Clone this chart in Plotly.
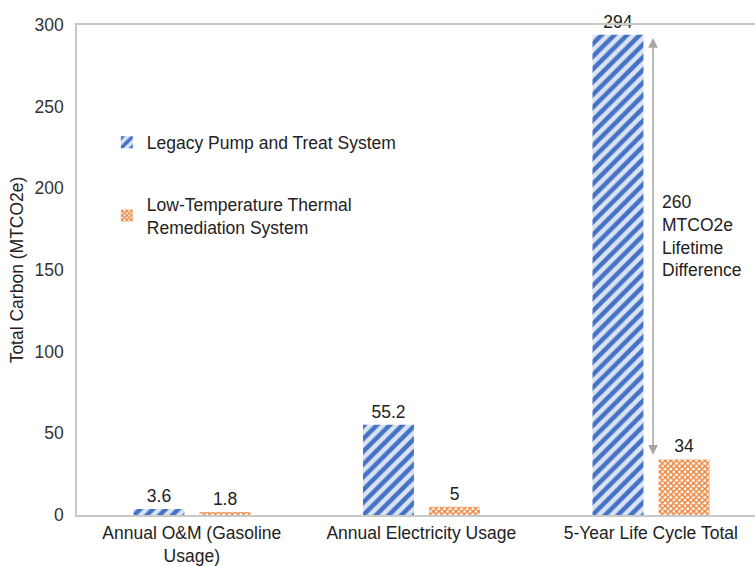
import plotly.graph_objects as go

categories = ["Annual O&M (Gasoline<br>Usage)", "Annual Electricity Usage", "5-Year Life Cycle Total"]
legacy_values = [3.6, 55.2, 294]
thermal_values = [1.8, 5, 34]
legacy_labels = ["3.6", "55.2", "294"]
thermal_labels = ["1.8", "5", "34"]
series_names = ["Legacy Pump and Treat System", "Low-Temperature Thermal<br>Remediation System"]
y_ticks = [0, 50, 100, 150, 200, 250, 300]

font_family = "Liberation Sans, Arial, sans-serif"
FS = 17.5

fig = go.Figure()
fig.add_trace(go.Bar(
    x=categories, y=legacy_values, name=series_names[0],
    text=legacy_labels, textposition="outside", cliponaxis=False,
    textfont=dict(size=FS, color="#222222"),
    width=0.222, offset=-0.254,
    marker=dict(color="#DAE3F3", line=dict(width=0),
                pattern=dict(shape="/", fgcolor="#4472C4", bgcolor="#DAE3F3", size=9,
                             solidity=0.5, fgopacity=1, fillmode="replace")),
    legendgroup="a",
))
fig.add_trace(go.Bar(
    x=categories, y=thermal_values, name=series_names[1],
    text=thermal_labels, textposition="outside", cliponaxis=False,
    textfont=dict(size=FS, color="#222222"),
    width=0.222, offset=0.034,
    marker=dict(color="#ED7D31", line=dict(width=0),
                pattern=dict(shape="x", fgcolor="#ED7D31", bgcolor="#FFFFFF", size=4,
                             solidity=0.6, fgopacity=1, fillmode="replace")),
    legendgroup="b",
))

top = legacy_values[2]
bottom = thermal_values[2]
diff = round(top - bottom)
fig.add_annotation(
    x=2.01, y=top - 2, ax=2.01, ay=bottom + 2,
    xref="x", yref="y", axref="x", ayref="y",
    showarrow=True, arrowhead=2, startarrowhead=2, arrowside="end+start",
    arrowsize=1.3, startarrowsize=1.3, arrowwidth=1.5, arrowcolor="#A6A6A6", text="",
)
fig.add_annotation(
    x=2.04, y=171, xref="x", yref="y", xanchor="left", yanchor="middle",
    showarrow=False, align="left",
    text=f"{diff}<br>MTCO2e<br>Lifetime<br>Difference",
    font=dict(size=FS, color="#222222", family=font_family),
)

fig.update_layout(
    width=755, height=566,
    margin=dict(l=77, r=0, t=25, b=51),
    plot_bgcolor="white", paper_bgcolor="white",
    font=dict(family=font_family, size=FS, color="#222222"),
    barmode="group",
    showlegend=True,
    legend=dict(x=0.044, y=0.797, xanchor="left", yanchor="top",
                bgcolor="rgba(0,0,0,0)", font=dict(size=FS, color="#222222"),
                traceorder="grouped", tracegroupgap=36, itemwidth=30),
    xaxis=dict(range=[-0.5, 2.454], showline=True, mirror=True, linecolor="#C8C8C8",
               linewidth=1.5, ticks="", showgrid=False, ticklabelstandoff=1, automargin=False,
               tickfont=dict(size=FS, color="#222222")),
    yaxis=dict(range=[0, 300], tickvals=y_ticks, showline=True, mirror=True, linecolor="#C8C8C8",
               linewidth=1.5, ticks="", showgrid=False, zeroline=False, automargin=False,
               tickfont=dict(size=FS, color="#333333"), ticklabelstandoff=8,
               title=dict(text="Total Carbon (MTCO2e)", font=dict(size=FS, color="#222222"), standoff=6)),
)

fig.write_html("out.html")
